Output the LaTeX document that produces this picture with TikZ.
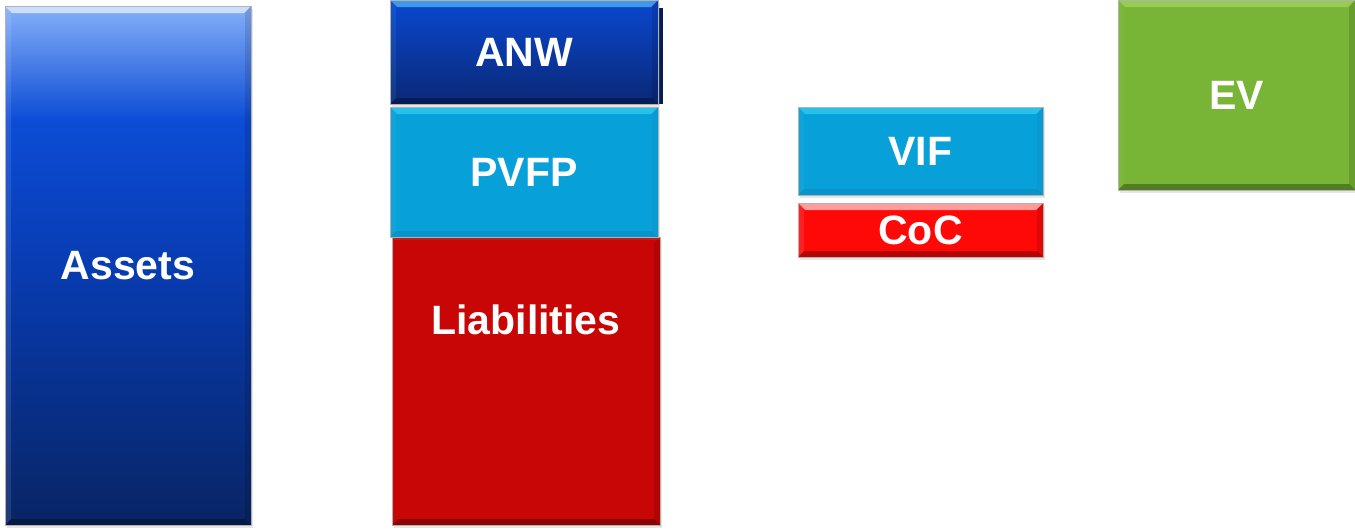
\documentclass[tikz,border=0pt]{standalone}
\usepackage{fontspec}
\setmainfont{Liberation Sans}
\usetikzlibrary{shadows}
\definecolor{assetlight}{RGB}{134,176,250}
\definecolor{assetbright}{RGB}{12,76,214}
\definecolor{assetmid}{RGB}{8,60,178}
\definecolor{assetdark}{RGB}{8,36,100}
\definecolor{anwtop}{RGB}{10,72,208}
\definecolor{anwbot}{RGB}{10,40,118}
\definecolor{cyanbox}{RGB}{8,160,216}
\definecolor{cyanlight}{RGB}{60,215,250}
\definecolor{cyandark}{RGB}{8,118,170}
\definecolor{liabred}{RGB}{200,6,6}
\definecolor{cocred}{RGB}{255,8,8}
\definecolor{evgreen}{RGB}{120,180,54}
\definecolor{evlight}{RGB}{170,220,100}
\pgfdeclareverticalshading{assetshade}{100bp}{color(0bp)=(assetdark); color(25bp)=(assetdark); color(50bp)=(assetmid); color(64bp)=(assetbright); color(75bp)=(assetlight); color(100bp)=(assetlight)}
\tikzset{
  block/.style={rectangle, inner sep=0pt, outer sep=0pt, anchor=north west,
    text=white, font=\fontsize{41}{41}\selectfont\bfseries,
    draw=black!30, line width=0.5pt,
    drop shadow={opacity=0.2, shadow xshift=2pt, shadow yshift=-3pt}},
  bevel/.style 2 args={path picture={
    \fill[#1, opacity=0.6] (path picture bounding box.north west) -- (path picture bounding box.north east)
      -- ([shift={(-7pt,-7pt)}]path picture bounding box.north east) -- ([shift={(7pt,-7pt)}]path picture bounding box.north west) -- cycle;
    \fill[#2, opacity=0.3] (path picture bounding box.south west) -- (path picture bounding box.south east)
      -- ([shift={(-6pt,6pt)}]path picture bounding box.south east) -- ([shift={(6pt,6pt)}]path picture bounding box.south west) -- cycle;
    \fill[#2, opacity=0.12] (path picture bounding box.north east) -- (path picture bounding box.south east)
      -- ([shift={(-6pt,6pt)}]path picture bounding box.south east) -- ([shift={(-6pt,-7pt)}]path picture bounding box.north east) -- cycle;
    \fill[#1, opacity=0.1] (path picture bounding box.north west) -- (path picture bounding box.south west)
      -- ([shift={(6pt,6pt)}]path picture bounding box.south west) -- ([shift={(6pt,-7pt)}]path picture bounding box.north west) -- cycle;
  }},
  lbl/.style={text=white, font=\fontsize{41}{41}\selectfont\bfseries, inner sep=0pt}
}
\begin{document}
\begin{tikzpicture}[x=1pt,y=-1pt]
\useasboundingbox (0,0) rectangle (1355,530);
% Assets
\node[block, shading=assetshade, minimum width=246pt, minimum height=519pt,
  bevel={white}{black}] (assets) at (5,6) {Assets};
% ANW side edge
\fill[anwbot!70!black] (640,8) rectangle (663,104);
\node[block, top color=anwtop, bottom color=anwbot, minimum width=268pt, minimum height=104pt,
  bevel={cyan!60!white}{black}] (anw) at (390,0) {ANW};
% Liabilities
\node[block, fill=liabred, minimum width=268pt, minimum height=288pt,
  bevel={liabred}{black},
  label={[lbl, yshift=61pt]center:Liabilities}] (liab) at (392,237) {};
% PVFP
\node[block, fill=cyanbox, minimum width=268pt, minimum height=130pt,
  bevel={cyanlight}{cyandark}] (pvfp) at (390,107) {PVFP};
% VIF
\node[block, fill=cyanbox, minimum width=245pt, minimum height=88pt,
  bevel={cyanlight}{cyandark}] (vif) at (798,107) {VIF};
% CoC
\node[block, fill=cocred, minimum width=245pt, minimum height=54pt,
  bevel={white}{black}] (coc) at (798,203) {CoC};
% EV
\node[block, fill=evgreen, minimum width=237pt, minimum height=190pt,
  bevel={evlight}{black}] (ev) at (1118,0) {EV};
\end{tikzpicture}
\end{document}
